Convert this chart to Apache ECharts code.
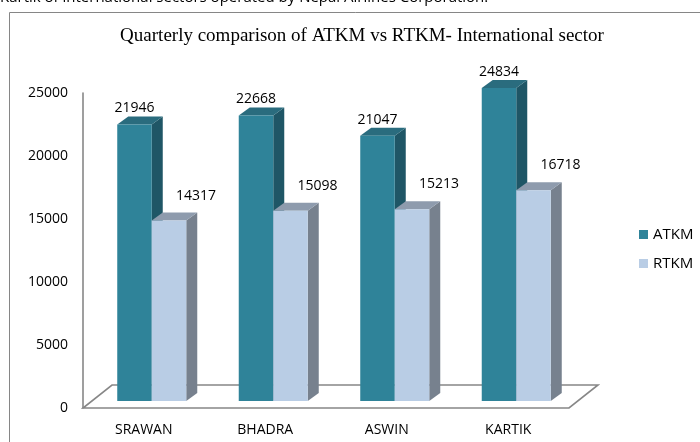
<!DOCTYPE html>
<html>
<head>
<meta charset="utf-8">
<script src="https://cdn.jsdelivr.net/npm/echarts@6/dist/echarts.min.js"></script>
<style>
  html, body { margin: 0; padding: 0; background: #fff; }
  #chart { width: 700px; height: 442px; }
</style>
</head>
<body>
<div id="chart"></div>
<script>
const categories = ['SRAWAN', 'BHADRA', 'ASWIN', 'KARTIK']
const atkm = [21946, 22668, 21047, 24834]
const rtkm = [14317, 15098, 15213, 16718]
const seriesNames = ['ATKM', 'RTKM']

// face colours: front, side, top
const palette = {
  ATKM: { front: '#2f8399', side: '#1f5666', top: '#2a6c7e' },
  RTKM: { front: '#b9cde5', side: '#77818e', top: '#8e9bad' }
}

const DEPTH_X = 11
const DEPTH_Y = -8
const LIFT_X = 8
const LIFT_Y = -7

const makeBarRenderer = (name, idx) => (params, api) => {
  const band = api.size([1, 0])[0]
  const w = band * 0.284
  const base = api.coord([api.value(0), 0])
  const top = api.coord([api.value(0), api.value(1)])
  const cx = base[0] + LIFT_X
  const x = idx === 0 ? cx - w : cx
  const yb = base[1] + LIFT_Y
  const yt = top[1] + LIFT_Y
  const c = palette[name]
  const labelX = idx === 0 ? x + w / 2 : x + w / 2 + 27
  const labelY = idx === 0 ? yt - 16 : yt - 25
  return {
    type: 'group',
    children: [
      {
        type: 'polygon',
        shape: { points: [[x + w, yt], [x + w + DEPTH_X, yt + DEPTH_Y], [x + w + DEPTH_X, yb + DEPTH_Y], [x + w, yb]] },
        style: { fill: c.side }
      },
      {
        type: 'polygon',
        shape: { points: [[x, yt], [x + DEPTH_X, yt + DEPTH_Y], [x + w + DEPTH_X, yt + DEPTH_Y], [x + w, yt]] },
        style: { fill: c.top }
      },
      {
        type: 'rect',
        shape: { x: x, y: yt, width: w, height: yb - yt },
        style: { fill: c.front }
      },
      {
        type: 'text',
        style: {
          x: labelX, y: labelY,
          text: String(api.value(1)),
          align: 'center', verticalAlign: 'middle',
          font: '14px "Open Sans"', fill: '#000'
        }
      }
    ]
  }
}

const renderFloor = (params, api) => {
  if (params.dataIndex !== 0) return
  const cs = params.coordSys
  const x0 = cs.x
  const x1 = cs.x + cs.width
  const y0 = cs.y + cs.height
  return {
    type: 'polygon',
    shape: { points: [[x0, y0], [x1, y0], [x1 + 29, y0 - 23], [x0 + 29, y0 - 23]] },
    style: { fill: '#fff', stroke: '#878787', lineWidth: 1.6 }
  }
}

const chart = echarts.init(document.getElementById('chart'))
chart.setOption({
  animation: false,
  backgroundColor: '#fff',
  title: {
    text: 'Quarterly comparison of ATKM vs RTKM- International sector',
    left: 357,
    top: 22,
    textAlign: 'center',
    textStyle: {
      fontFamily: '"Liberation Serif"',
      fontSize: 19,
      fontWeight: 'normal',
      color: '#000'
    }
  },
  graphic: [
    {
      type: 'text',
      left: 0,
      top: -10,
      style: {
        text: 'Kartik of international sectors operated by Nepal Airlines Corporation.',
        font: '15px "Open Sans"',
        fill: '#000'
      }
    },
    {
      type: 'rect',
      shape: { x: 9.5, y: 12.5, width: 700, height: 440 },
      style: { fill: 'none', stroke: '#868686', lineWidth: 1 }
    }
  ],
  legend: {
    orient: 'vertical',
    left: 634,
    top: 222,
    itemWidth: 9,
    itemHeight: 9,
    itemGap: 14,
    icon: 'rect',
    data: seriesNames.map(n => ({ name: n, itemStyle: { color: palette[n].front } })),
    textStyle: { fontFamily: '"Open Sans"', fontSize: 15, color: '#000' }
  },
  grid: { left: 83, right: 131, top: 93, bottom: 34 },
  xAxis: {
    type: 'category',
    data: categories,
    axisLine: { show: false },
    axisTick: { show: false },
    axisLabel: { margin: 15, fontFamily: '"Open Sans"', fontSize: 14, color: '#000' }
  },
  yAxis: {
    type: 'value',
    min: 0,
    max: 25000,
    interval: 5000,
    splitLine: { show: false },
    axisTick: { show: false },
    axisLine: { show: true, lineStyle: { color: '#878787', width: 1.6 } },
    axisLabel: {
      margin: 15,
      formatter: v => String(v),
      fontFamily: '"Open Sans"',
      fontSize: 14,
      color: '#000'
    }
  },
  series: [
    {
      type: 'custom',
      name: 'floor',
      renderItem: renderFloor,
      data: [[0, 0]],
      z: 1,
      silent: true
    },
    {
      type: 'custom',
      name: 'ATKM',
      renderItem: makeBarRenderer('ATKM', 0),
      itemStyle: { color: palette.ATKM.front },
      encode: { x: 0, y: 1 },
      data: atkm.map((v, i) => [i, v]),
      z: 2
    },
    {
      type: 'custom',
      name: 'RTKM',
      renderItem: makeBarRenderer('RTKM', 1),
      itemStyle: { color: palette.RTKM.front },
      encode: { x: 0, y: 1 },
      data: rtkm.map((v, i) => [i, v]),
      z: 3
    }
  ]
})
</script>
</body>
</html>
